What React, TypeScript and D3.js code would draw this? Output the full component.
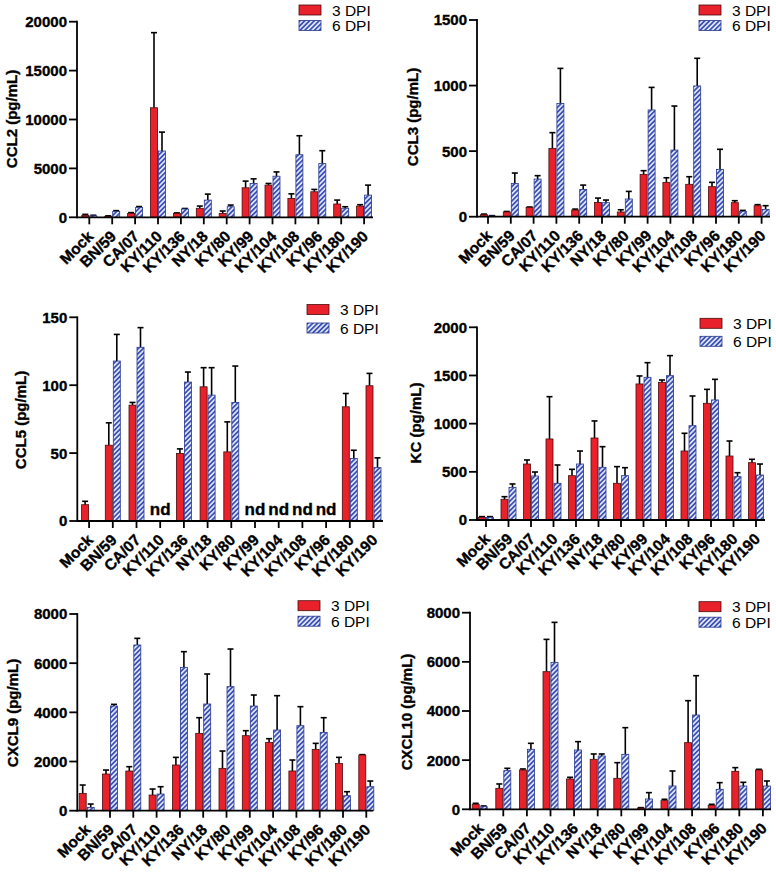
import React from "react";
import * as d3 from "d3";

const categories = ["Mock", "BN/59", "CA/07", "KY/110", "KY/136", "NY/18", "KY/80", "KY/99", "KY/104", "KY/108", "KY/96", "KY/180", "KY/190"];
const seriesNames = ["3 DPI", "6 DPI"];

// CCL2
const ccl2Ticks = [0, 5000, 10000, 15000, 20000];
const ccl2Dpi3 = [200, 100, 400, 11200, 400, 920, 400, 3020, 3290, 1930, 2610, 1360, 1150];
const ccl2Err3 = [100, 50, 80, 7680, 50, 230, 240, 680, 170, 470, 240, 400, 140];
const ccl2Dpi6 = [150, 600, 1000, 6780, 850, 1760, 1080, 3460, 4200, 6400, 5490, 920, 2270];
const ccl2Err6 = [60, 80, 100, 1930, 50, 610, 170, 470, 440, 1940, 1320, 160, 1020];

// CCL3
const ccl3Ticks = [0, 500, 1000, 1500];
const ccl3Dpi3 = [15, 36, 71, 521, 51, 109, 36, 323, 262, 247, 229, 107, 84];
const ccl3Err3 = [5, 4, 3, 120, 7, 33, 17, 28, 35, 58, 33, 15, 8];
const ccl3Dpi6 = [5, 254, 287, 864, 208, 107, 135, 814, 508, 997, 361, 41, 56];
const ccl3Err6 = [3, 79, 26, 267, 33, 20, 58, 172, 336, 211, 153, 7, 28];

// CCL5 (null = not detected)
const ccl5Ticks = [0, 50, 100, 150];
const ccl5Dpi3 = [12, 55.8, 85.3, null, 49.7, 98.8, 50.9, null, null, null, null, 84.1, 99.6];
const ccl5Err3 = [2.5, 16.5, 2, null, 3.4, 14.1, 22.1, null, null, null, null, 9.8, 9.1];
const ccl5Dpi6 = [0, 117.8, 127.9, null, 102.3, 92.7, 87.3, null, null, null, null, 46, 39.3];
const ccl5Err6 = [0, 19.6, 14.5, null, 7.4, 20.2, 26.8, null, null, null, null, 6.1, 7.2];

// KC
const kcTicks = [0, 500, 1000, 1500, 2000];
const kcDpi3 = [28, 215, 581, 841, 460, 851, 381, 1412, 1429, 716, 1211, 664, 595];
const kcErr3 = [7, 27, 42, 439, 66, 177, 173, 83, 24, 184, 145, 156, 35];
const kcDpi6 = [28, 339, 457, 381, 581, 547, 460, 1481, 1498, 979, 1246, 450, 467];
const kcErr6 = [7, 35, 41, 190, 135, 214, 83, 152, 208, 308, 214, 41, 114];

// CXCL9
const cxcl9Ticks = [0, 2000, 4000, 6000, 8000];
const cxcl9Dpi3 = [705, 1492, 1614, 637, 1858, 3146, 1722, 3051, 2780, 1614, 2495, 1925, 2264];
const cxcl9Err3 = [339, 162, 176, 244, 311, 637, 705, 203, 149, 447, 244, 244, 16];
const cxcl9Dpi6 = [136, 4258, 6739, 678, 5830, 4339, 5044, 4258, 3281, 3458, 3186, 610, 976];
const cxcl9Err6 = [135, 67, 271, 298, 638, 1220, 1532, 447, 1397, 773, 597, 163, 231];

// CXCL10
const cxcl10Ticks = [0, 2000, 4000, 6000, 8000];
const cxcl10Dpi3 = [203, 854, 1600, 5600, 1234, 2034, 1261, 54, 353, 2712, 163, 1546, 1600];
const cxcl10Err3 = [41, 177, 41, 1315, 68, 217, 637, 14, 54, 1708, 40, 149, 27];
const cxcl10Dpi6 = [108, 1573, 2441, 5980, 2414, 2169, 2237, 420, 949, 3837, 814, 949, 949];
const cxcl10Err6 = [28, 95, 244, 1627, 339, 82, 1085, 258, 610, 1600, 271, 149, 204];

type Layout = {
  axisX: number; y0: number; yTop: number; xFirst: number; step: number; xEnd: number;
  legX: number; legY: number; legGap: number; labelX: number; labelY: number;
};
type PanelCfg = {
  id: string; label: string; ticks: number[];
  a: (number | null)[]; ae: (number | null)[]; b: (number | null)[]; be: (number | null)[];
  layout: Layout;
};

const panels: PanelCfg[] = [
  { id: "p1", label: "CCL2 (pg/mL)", ticks: ccl2Ticks, a: ccl2Dpi3, ae: ccl2Err3, b: ccl2Dpi6, be: ccl2Err6,
    layout: { axisX: 77, y0: 217.3, yTop: 21.7, xFirst: 89.3, step: 22.9, xEnd: 373, legX: 299, legY: 5, legGap: 15.5, labelX: 12, labelY: 119 } },
  { id: "p2", label: "CCL3 (pg/mL)", ticks: ccl3Ticks, a: ccl3Dpi3, ae: ccl3Err3, b: ccl3Dpi6, be: ccl3Err6,
    layout: { axisX: 477, y0: 216.7, yTop: 20, xFirst: 488, step: 22.8, xEnd: 770, legX: 699, legY: 5, legGap: 15.5, labelX: 413, labelY: 117 } },
  { id: "p3", label: "CCL5 (pg/mL)", ticks: ccl5Ticks, a: ccl5Dpi3, ae: ccl5Err3, b: ccl5Dpi6, be: ccl5Err6,
    layout: { axisX: 77.3, y0: 521, yTop: 317.3, xFirst: 89.1, step: 23.7, xEnd: 383, legX: 307, legY: 304.5, legGap: 18.5, labelX: 21, labelY: 420 } },
  { id: "p4", label: "KC (pg/mL)", ticks: kcTicks, a: kcDpi3, ae: kcErr3, b: kcDpi6, be: kcErr6,
    layout: { axisX: 477, y0: 520, yTop: 327.3, xFirst: 486, step: 22.5, xEnd: 765, legX: 700, legY: 318.3, legGap: 18, labelX: 416, labelY: 423 } },
  { id: "p5", label: "CXCL9 (pg/mL)", ticks: cxcl9Ticks, a: cxcl9Dpi3, ae: cxcl9Err3, b: cxcl9Dpi6, be: cxcl9Err6,
    layout: { axisX: 77.3, y0: 810.7, yTop: 614, xFirst: 86.7, step: 23.3, xEnd: 373, legX: 298, legY: 600.7, legGap: 15.5, labelX: 13, labelY: 713 } },
  { id: "p6", label: "CXCL10 (pg/mL)", ticks: cxcl10Ticks, a: cxcl10Dpi3, ae: cxcl10Err3, b: cxcl10Dpi6, be: cxcl10Err6,
    layout: { axisX: 470, y0: 809.3, yTop: 612.7, xFirst: 479.7, step: 23.6, xEnd: 771, legX: 699, legY: 601.7, legGap: 15.5, labelX: 407, labelY: 712 } },
];

const FONT = "'Liberation Sans', Arial, Helvetica, sans-serif";
const RED = "#e8212a";
const RED_STROKE = "#4a0c0c";
const BLUE_STROKE = "#263890";
const HEAVY = { stroke: "#000", strokeWidth: 0.35 };

function Panel({ cfg }: { cfg: PanelCfg }) {
  const L = cfg.layout;
  const x = d3.scaleBand<string>()
    .domain(categories)
    .range([L.xFirst - L.step / 2, L.xFirst + (categories.length - 0.5) * L.step])
    .paddingInner(0).paddingOuter(0);
  const yMax = cfg.ticks[cfg.ticks.length - 1];
  const y = d3.scaleLinear().domain([0, yMax]).range([L.y0, L.yTop]);
  const bw = 7;
  const cx = (c: string) => (x(c) as number) + x.bandwidth() / 2;

  const bar = (v: number | null, e: number | null, c: string, side: number, key: string) => {
    if (v == null || v <= 0) return null;
    const x0 = side < 0 ? cx(c) - 0.5 - bw : cx(c) + 0.5;
    const top = y(v);
    const mid = x0 + bw / 2;
    const et = e ? y(v + e) : top;
    return (
      <g key={key}>
        {e ? (
          <g stroke="#000" strokeWidth={1.6}>
            <line x1={mid} x2={mid} y1={top} y2={et} />
            <line x1={mid - 3} x2={mid + 3} y1={et} y2={et} />
          </g>
        ) : null}
        <rect x={x0} y={top} width={bw} height={L.y0 - top}
          fill={side < 0 ? RED : `url(#hatch)`} stroke={side < 0 ? RED_STROKE : BLUE_STROKE} strokeWidth={0.8} />
      </g>
    );
  };

  return (
    <g fontFamily={FONT}>
      {categories.map((c, i) => (
        <g key={c}>
          {bar(cfg.a[i], cfg.ae[i], c, -1, "a" + i)}
          {bar(cfg.b[i], cfg.be[i], c, 1, "b" + i)}
          {cfg.a[i] == null && cfg.b[i] == null ? (
            <text x={cx(c)} y={L.y0 - 6} textAnchor="middle" fontWeight="bold" fontSize={17} {...HEAVY}>nd</text>
          ) : null}
        </g>
      ))}
      <g stroke="#000" strokeWidth={1.8} fill="none">
        <line x1={L.axisX} x2={L.axisX} y1={y(yMax) - 0.9} y2={L.y0 + 0.9} />
        <line x1={L.axisX} x2={L.xEnd} y1={L.y0} y2={L.y0} />
        {cfg.ticks.map((t) => (
          <line key={t} x1={L.axisX - 8} x2={L.axisX} y1={y(t)} y2={y(t)} />
        ))}
        {categories.map((c) => (
          <line key={c} x1={cx(c)} x2={cx(c)} y1={L.y0} y2={L.y0 + 7} />
        ))}
      </g>
      {cfg.ticks.map((t) => (
        <text key={t} x={L.axisX - 10} y={y(t)} dy="0.36em" textAnchor="end" fontWeight="bold" fontSize={15} {...HEAVY}>{t}</text>
      ))}
      {categories.map((c) => (
        <text key={c} transform={`translate(${cx(c) + 5},${L.y0 + 20}) rotate(-45)`} textAnchor="end" fontWeight="bold" fontSize={15.5} {...HEAVY}>{c}</text>
      ))}
      <text transform={`translate(${L.labelX + 5},${L.labelY}) rotate(-90)`} textAnchor="middle" fontWeight="bold" fontSize={15} {...HEAVY}>{cfg.label}</text>
      {seriesNames.map((s, i) => (
        <g key={s} transform={`translate(${L.legX},${L.legY + i * L.legGap})`}>
          <rect x={0} y={0} width={22} height={10} fill={i === 0 ? RED : "url(#hatch)"} stroke={i === 0 ? RED_STROKE : BLUE_STROKE} strokeWidth={0.8} />
          <text x={33} y={10.5} fontSize={15.5}>{s}</text>
        </g>
      ))}
    </g>
  );
}

export default function App() {
  return (
    <svg width={776} height={874} style={{ position: "absolute", left: 0, top: 0, background: "#fff" }}>
      <defs>
        <pattern id="hatch" patternUnits="userSpaceOnUse" width={3.4} height={3.4} patternTransform="rotate(45)">
          <rect width={3.4} height={3.4} fill="#dde3f8" />
          <line x1={0.85} y1={0} x2={0.85} y2={3.4} stroke="#3c51b4" strokeWidth={1.7} />
        </pattern>
      </defs>
      <rect width={776} height={874} fill="#fff" />
      {panels.map((p) => (
        <Panel key={p.id} cfg={p} />
      ))}
    </svg>
  );
}
